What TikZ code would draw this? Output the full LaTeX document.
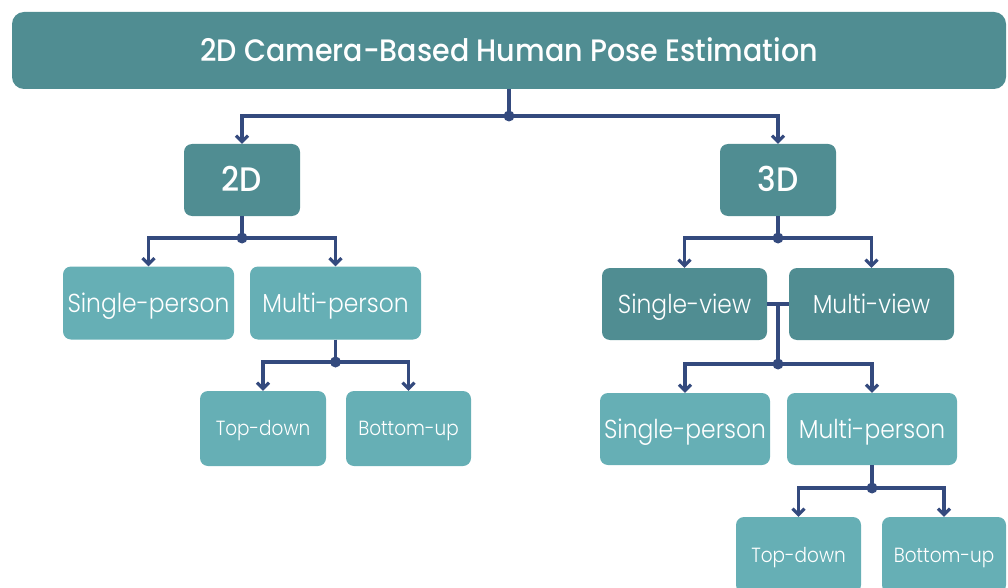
\documentclass[tikz,border=0pt]{standalone}
\usepackage{fontspec}
\setmainfont{Poppins Light}[FakeStretch=0.9]
\newfontfamily\headfont{Poppins Medium}[FakeStretch=0.92]
\usetikzlibrary{arrows.meta,calc}
\definecolor{tealdark}{HTML}{508D92}
\definecolor{teallight}{HTML}{66AFB5}
\definecolor{navy}{HTML}{344A7E}
\begin{document}
\begin{tikzpicture}[x=1pt,y=-1pt,
  box/.style={rectangle, rounded corners=8pt, inner sep=0pt, text=white, align=center, text depth=0pt},
  darkbox/.style={box, fill=tealdark},
  lightbox/.style={box, fill=teallight},
  headline/.style={font=\headfont\fontsize{31}{33}\selectfont, text height=21.5pt},
  level/.style={font=\headfont\fontsize{34}{36}\selectfont, text height=23.8pt},
  big/.style={font=\fontsize{26}{28}\selectfont, text height=18.2pt},
  small/.style={font=\fontsize{20.5}{22}\selectfont, text height=14.4pt},
  conn/.style={draw=navy, line width=3.1pt},
  arr/.style={conn, -{Straight Barb[length=6pt,width=12pt]}},
  junction/.style={fill=navy}
]
\useasboundingbox (0,0) rectangle (1008,588);

% boxes
\node[darkbox, headline, minimum width=994pt, minimum height=77pt, rounded corners=12pt] (title) at (509,50.5) {2D Camera-Based Human Pose Estimation};

\node[darkbox, level, minimum width=116pt, minimum height=72pt] (d2) at (242,180) {2D};
\node[darkbox, level, minimum width=116pt, minimum height=72pt] (d3) at (778,180) {3D};

\node[lightbox, big, minimum width=171pt, minimum height=73pt] (sp1) at (148.5,303) {Single-person};
\node[lightbox, big, minimum width=171pt, minimum height=73pt] (mp1) at (335.5,303) {Multi-person};
\node[lightbox, small, minimum width=126pt, minimum height=75pt] (td1) at (263,428.5) {Top-down};
\node[lightbox, small, minimum width=125pt, minimum height=75pt] (bu1) at (408.5,428.5) {Bottom-up};

\node[darkbox, big, minimum width=165pt, minimum height=72pt] (sv) at (684.5,304) {Single-view};
\node[darkbox, big, minimum width=165pt, minimum height=72pt] (mv) at (871.5,304) {Multi-view};
\node[lightbox, big, minimum width=170pt, minimum height=72pt] (sp2) at (685,429) {Single-person};
\node[lightbox, big, minimum width=170pt, minimum height=72pt] (mp2) at (872,429) {Multi-person};
\node[lightbox, small, minimum width=125pt, minimum height=76pt] (td2) at (798.5,555) {Top-down};
\node[lightbox, small, minimum width=124pt, minimum height=76pt] (bu2) at (944,555) {Bottom-up};

% junction points
\coordinate (j0) at (title.south |- 0,116);
\coordinate (j1) at (d2.south |- 0,238);
\coordinate (j2) at (mp1.south |- 0,362);
\coordinate (j3) at (d3.south |- 0,238);
\coordinate (j4) at ($(sv.east)!0.5!(mv.west)$);
\coordinate (j5) at (j4 |- 0,364);
\coordinate (j6) at (mp2.south |- 0,488);

% connectors
\draw[conn] (title.south) -- (j0);
\draw[arr] (j0) -| (d2.north);
\draw[arr] (j0) -| (d3.north);

\draw[conn] (d2.south) -- (j1);
\draw[arr] (j1) -| (sp1.north);
\draw[arr] (j1) -| (mp1.north);

\draw[conn] (mp1.south) -- (j2);
\draw[arr] (j2) -| (td1.north);
\draw[arr] (j2) -| (bu1.north);

\draw[conn] (d3.south) -- (j3);
\draw[arr] (j3) -| (sv.north);
\draw[arr] (j3) -| (mv.north);

\draw[conn] (sv.east) -- (mv.west);
\draw[conn] (j4) -- (j5);
\draw[arr] (j5) -| (sp2.north);
\draw[arr] (j5) -| (mp2.north);

\draw[conn] (mp2.south) -- (j6);
\draw[arr] (j6) -| (td2.north);
\draw[arr] (j6) -| (bu2.north);

\foreach \j in {j0,j1,j2,j3,j5,j6} \fill[junction] (\j) circle (5.5pt);
\end{tikzpicture}
\end{document}
